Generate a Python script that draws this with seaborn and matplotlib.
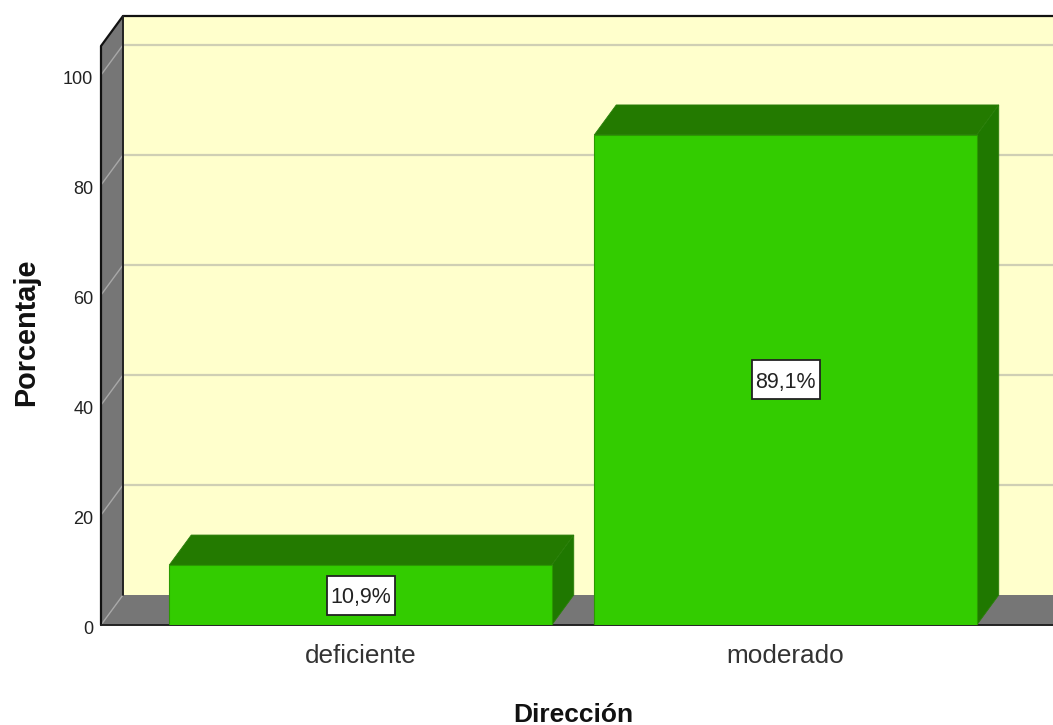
import matplotlib
matplotlib.use("Agg")
import matplotlib.pyplot as plt
import seaborn as sns
import pandas as pd
from matplotlib.patches import Polygon, Rectangle
from matplotlib.transforms import ScaledTranslation

categories = ["deficiente", "moderado"]
values = [10.9, 89.1]
labels = ["10,9%", "89,1%"]
yticks = [0, 20, 40, 60, 80, 100]
xlabel = "Dirección"
ylabel = "Porcentaje"

W, H = 1053, 725
sns.set_style("white")
plt.rcParams['font.family'] = ['Liberation Sans', 'DejaVu Sans']

fig = plt.figure(figsize=(W / 100, H / 100), dpi=100)
ax = fig.add_axes([101 / W, (H - 625) / H, 952 / W, 609 / H])

df = pd.DataFrame({"cat": categories, "val": values})
sns.barplot(data=df, x="cat", y="val", color="#33CC00", saturation=1, width=0.9, ax=ax, zorder=5,
            edgecolor="#2A9A00", linewidth=0.8)

ax.set_xlim(-259.5 / 425, 692.5 / 425)
ax.set_ylim(0, 609 / 5.5)
dx = 22 / 425
dy = 30 / 5.5
x0, x1 = ax.get_xlim()
y0, y1 = ax.get_ylim()
ytop = y1 - dy

GREY = "#767676"
YEL = "#FFFFCC"
kw = dict(clip_on=False)
# back wall
ax.add_patch(Polygon([(x0 + dx, y0 + dy), (x1, y0 + dy), (x1, y1), (x0 + dx, y1)], fc=YEL, ec="none", zorder=1, **kw))
# left wall
ax.add_patch(Polygon([(x0, y0), (x0 + dx, y0 + dy), (x0 + dx, y1), (x0, ytop)], fc=GREY, ec="none", zorder=1, **kw))
# floor
ax.add_patch(Polygon([(x0, y0), (x0 + dx, y0 + dy), (x1, y0 + dy), (x1, y0)], fc=GREY, ec="none", zorder=1, **kw))

# gridlines on wall
for t in yticks:
    if t > 0:
        ax.plot([x0 + dx, x1], [t + dy, t + dy], color="#CFCFB4", lw=1.6, zorder=2, **kw)
    ax.plot([x0, x0 + dx], [t, t + dy], color="#A8A8A8", lw=1.0, zorder=2, **kw)

# outlines
ax.plot([x0, x0, x0 + dx, x1], [y0, ytop, y1, y1], color="#111111", lw=1.6, zorder=3, **kw)
ax.plot([x0 + dx, x0 + dx], [y0 + dy, y1], color="#222222", lw=1.4, zorder=3, **kw)
ax.plot([x0, x1], [y0, y0], color="#222222", lw=1.4, zorder=3, **kw)

# 3D faces for bars, built from the library's bars
TOP = "#237A00"
SIDE = "#1F7800"
box_w = 68 / 425
box_h = 39 / 5.5
for bar, lab in zip(list(ax.patches[:len(values)]), labels):
    l, w, h = bar.get_x(), bar.get_width(), bar.get_height()
    r = l + w
    cx, cy = l + w / 2, h / 2
    ax.add_patch(Polygon([(l, h), (r, h), (r + dx, h + dy), (l + dx, h + dy)], fc=TOP, ec="#2A7F0A", lw=0.6, zorder=4, **kw))
    ax.add_patch(Polygon([(r, 0), (r + dx, dy), (r + dx, h + dy), (r, h)], fc=SIDE, ec="#2A7F0A", lw=0.6, zorder=4, **kw))
    ax.add_patch(Rectangle((cx - box_w / 2, cy - box_h / 2), box_w, box_h, fc="white", ec="#222222", lw=1.3, zorder=6, **kw))
    ax.text(cx, cy, lab, ha="center", va="center_baseline", fontsize=15.5, color="#222222", zorder=7)

ax.set_yticks(yticks)
ax.set_xticks(range(len(categories)))
ax.set_xticklabels(categories)
ax.tick_params(axis="y", length=0, pad=5.5, labelsize=13, labelcolor="#222222")
ax.tick_params(axis="x", length=0, pad=14, labelsize=18.8, labelcolor="#333333")
shift = ScaledTranslation(0, -2.5 / 100, fig.dpi_scale_trans)
for t in ax.get_yticklabels():
    t.set_transform(t.get_transform() + shift)
for s in ax.spines.values():
    s.set_visible(False)
ax.patch.set_visible(False)

ax.set_xlabel(xlabel, fontsize=19, fontweight="bold", color="#111111", va="center")
ax.set_ylabel(ylabel, fontsize=20.8, fontweight="bold", color="#111111", va="center")
ax.xaxis.set_label_coords(472 / 952, -90 / 609)
ax.yaxis.set_label_coords(-75 / 952, 293 / 609)

fig.savefig("out.png", dpi=100)
